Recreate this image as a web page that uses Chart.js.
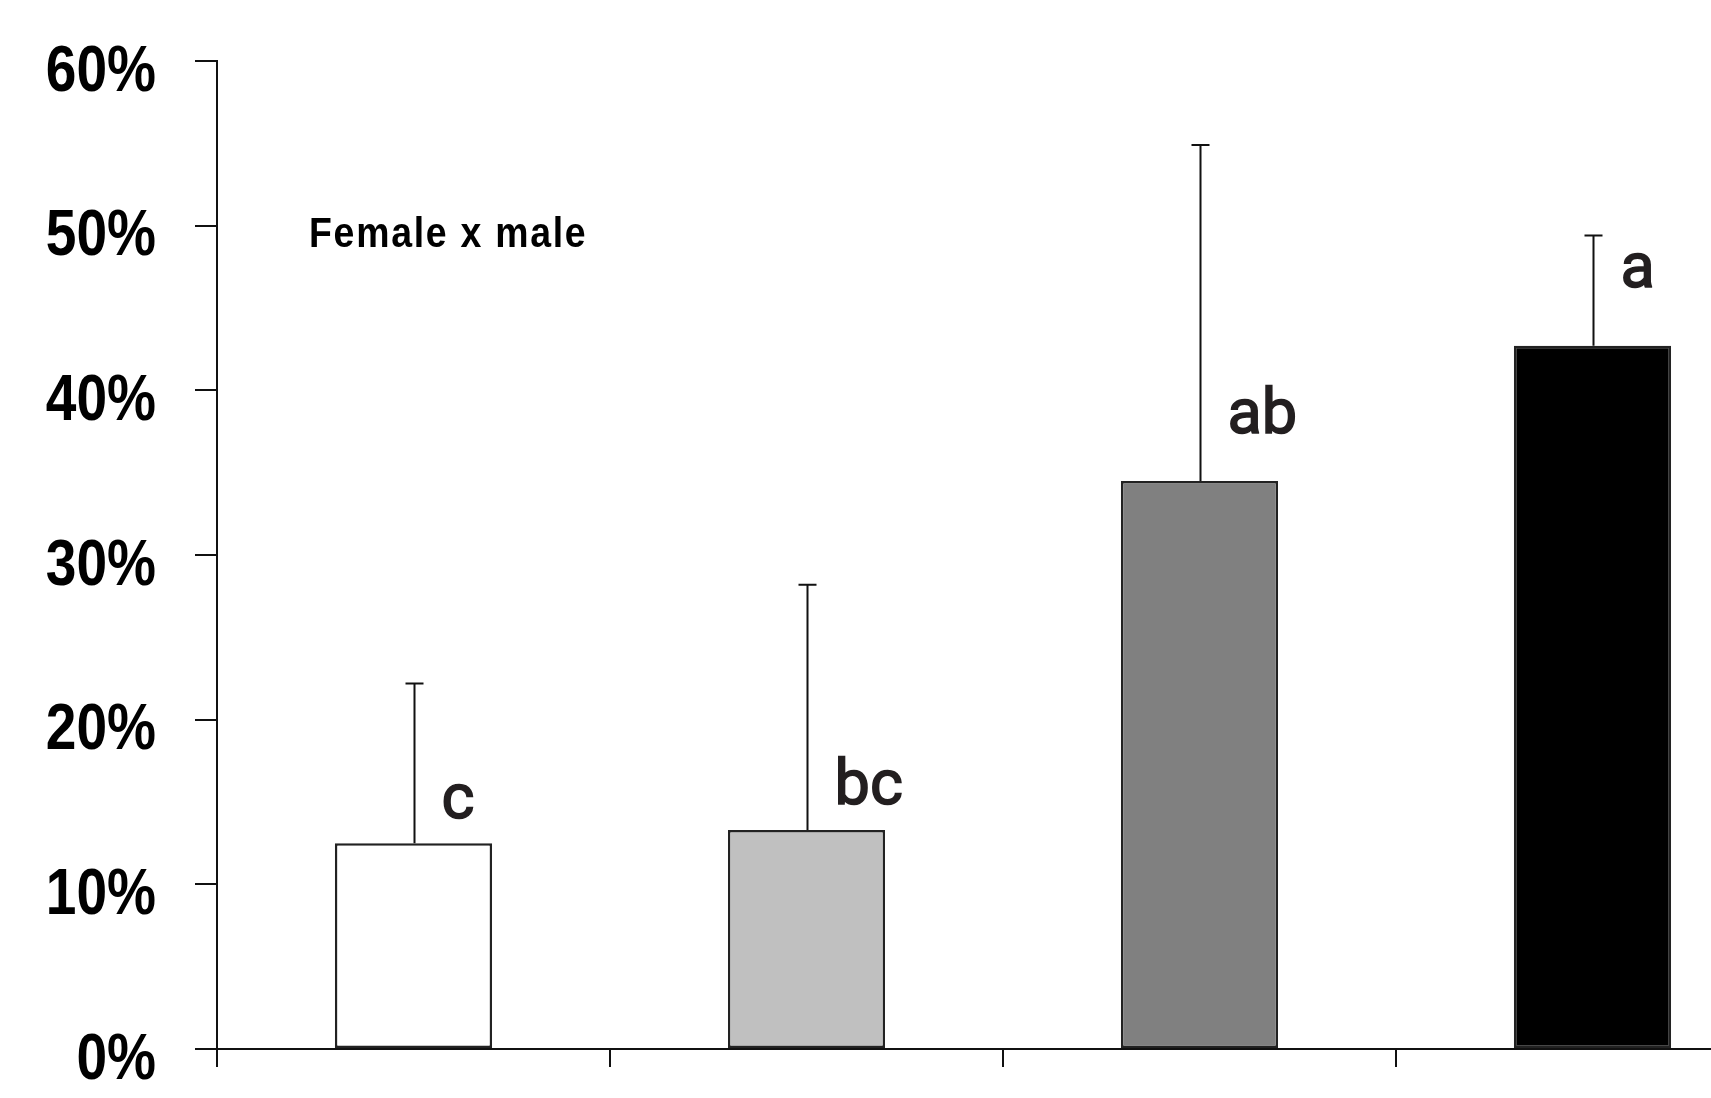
<!DOCTYPE html>
<html>
<head>
<meta charset="utf-8">
<script src="https://cdn.jsdelivr.net/npm/chart.js@4/dist/chart.umd.min.js"></script>
<style>
    html, body { margin: 0; padding: 0; background: #fff; overflow: hidden; }
    #wrap { position: relative; width: 1790px; height: 1098px; }
</style>
</head>
<body>
<div id="wrap"><canvas id="chart"></canvas></div>
<script>
const categories = ['Group 1', 'Group 2', 'Group 3', 'Group 4'];
const means = [12.5, 13.3, 34.5, 42.7];
const sdUpper = [9.7, 14.9, 20.4, 6.7];
const letters = ['c', 'bc', 'ab', 'a'];
const letterLevels = [14.0, 14.9, 37.4, 46.3];
const barColors = ['#ffffff', '#c0c0c0', '#808080', '#000000'];
const yTicks = [0, 10, 20, 30, 40, 50, 60];
const panelLabel = 'Female x male';

const INK = '#111111';
const TICK_FONT = "'Liberation Sans', Arial, sans-serif";

// narrow bold text: the original uses a condensed face, so squeeze it sideways
function narrowText(ctx, text, x, y, font, squeeze, align) {
    ctx.save();
    ctx.font = font;
    ctx.textAlign = align;
    ctx.translate(x, y);
    ctx.scale(squeeze, 1);
    ctx.fillText(text, 0, 0);
    ctx.restore();
}

// error bars, significance letters, tick labels and the panel label
const extras = {
    id: 'extras',
    afterDatasetsDraw(chart) {
        const ctx = chart.ctx;
        const x = chart.scales.x;
        const y = chart.scales.y;
        ctx.save();
        ctx.strokeStyle = INK;
        ctx.lineWidth = 2;
        means.forEach((m, i) => {
            const cx = Math.round(x.getPixelForValue(i)) + 0.5;
            const yTop = y.getPixelForValue(m + sdUpper[i]);
            const yBar = y.getPixelForValue(m);
            ctx.beginPath();
            ctx.moveTo(cx, yBar);
            ctx.lineTo(cx, yTop);
            ctx.moveTo(cx - 9, yTop);
            ctx.lineTo(cx + 9, yTop);
            ctx.stroke();
        });

        ctx.fillStyle = '#231f20';
        ctx.strokeStyle = '#231f20';
        ctx.lineWidth = 1.6;
        ctx.font = "400 63px Roboto, 'Open Sans', sans-serif";
        ctx.textAlign = 'left';
        ctx.textBaseline = 'alphabetic';
        letters.forEach((t, i) => {
            const cx = x.getPixelForValue(i) + 28;
            const ty = y.getPixelForValue(letterLevels[i]);
            ctx.fillText(t, cx, ty);
            ctx.strokeText(t, cx, ty);
        });

        ctx.fillStyle = '#000';
        ctx.textBaseline = 'middle';
        y.ticks.forEach(t => {
            const label = t.value + '%';
            narrowText(ctx, label, y.left + 156, y.getPixelForValue(t.value) + 12,
                'bold 64px ' + TICK_FONT, 0.86, 'right');
        });

        ctx.letterSpacing = '2px';
        narrowText(ctx, panelLabel, x.left + 92, y.getPixelForValue(49.4),
            'bold 43px ' + TICK_FONT, 0.87, 'left');
        ctx.restore();
    }
};

const ctx = document.getElementById('chart').getContext('2d');
new Chart(ctx, {
    type: 'bar',
    data: {
        labels: categories,
        datasets: [{
            data: means,
            backgroundColor: barColors,
            borderColor: '#222222',
            borderWidth: 2.5,
            borderSkipped: false,
            barPercentage: 1.0,
            categoryPercentage: 0.4
        }]
    },
    options: {
        responsive: true,
        maintainAspectRatio: false,
        animation: false,
        layout: { padding: { top: 61, right: 1, left: 0, bottom: 0 } },
        plugins: {
            legend: { display: false },
            tooltip: { enabled: false }
        },
        scales: {
            x: {
                offset: true,
                grid: {
                    display: true,
                    drawOnChartArea: false,
                    drawTicks: true,
                    tickLength: 18,
                    color: INK,
                    lineWidth: 2,
                    offset: true
                },
                border: { display: true, color: INK, width: 2 },
                ticks: { display: false },
                afterFit(scale) { scale.height = 49; }
            },
            y: {
                min: 0,
                max: 60,
                afterBuildTicks(scale) {
                    scale.ticks = yTicks.map(v => ({ value: v }));
                },
                grid: {
                    display: true,
                    drawOnChartArea: false,
                    drawTicks: true,
                    tickLength: 22,
                    color: INK,
                    lineWidth: 2
                },
                border: { display: true, color: INK, width: 2 },
                ticks: { display: false },
                afterFit(scale) { scale.width = 217; }
            }
        }
    },
    plugins: [extras]
});
</script>
</body>
</html>
